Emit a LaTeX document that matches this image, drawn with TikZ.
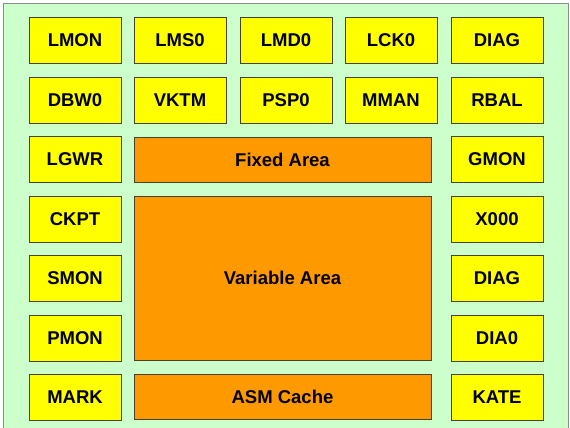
\documentclass[tikz,border=0pt]{standalone}
\usepackage{fontspec}
\setmainfont{Liberation Sans}
\usetikzlibrary{positioning}

\definecolor{areagreen}{HTML}{CCFFCC}
\definecolor{procyellow}{HTML}{FFFF00}
\definecolor{sgaorange}{HTML}{FF9900}
\definecolor{boxline}{HTML}{45452F}

\begin{document}
\begin{tikzpicture}[
    x=1pt,
    y=-1pt,
    procbox/.style={
        draw=boxline,
        fill=procyellow,
        line width=0.8pt,
        rectangle,
        minimum width=92pt,
        minimum height=46pt,
        inner sep=0pt,
        font=\fontsize{18.5}{20}\selectfont\bfseries
    },
    sgabox/.style={
        draw=boxline,
        fill=sgaorange,
        line width=0.8pt,
        rectangle,
        minimum width=297pt,
        inner sep=0pt,
        font=\fontsize{18.5}{20}\selectfont\bfseries
    }
]
\useasboundingbox (0,0) rectangle (570,428);

% ============================================================
% Instance background
% ============================================================
\draw[fill=areagreen, draw=black!45, line width=1pt]
    (3.5,4) rectangle (568,434);

% ============================================================
% Row 1
% ============================================================
\node[procbox] (lmon) at (75,40.5)  {LMON};
\node[procbox] (lms0) at (180,40.5) {LMS0};
\node[procbox] (lmd0) at (286,40.5) {LMD0};
\node[procbox] (lck0) at (391,40.5) {LCK0};
\node[procbox] (diag) at (497,40.5) {DIAG};

% ============================================================
% Row 2
% ============================================================
\node[procbox] (dbw0) at (75,100)  {DBW0};
\node[procbox] (vktm) at (180,100) {VKTM};
\node[procbox] (psp0) at (286,100) {PSP0};
\node[procbox] (mman) at (391,100) {MMAN};
\node[procbox] (rbal) at (497,100) {RBAL};

% ============================================================
% Left column
% ============================================================
\node[procbox] (lgwr) at (75,159.5) {LGWR};
\node[procbox] (ckpt) at (75,219)   {CKPT};
\node[procbox] (smon) at (75,278.5) {SMON};
\node[procbox] (pmon) at (75,338)   {PMON};
\node[procbox] (mark) at (75,397)   {MARK};

% ============================================================
% Right column
% ============================================================
\node[procbox] (gmon)   at (497,159.5) {GMON};
\node[procbox] (x000)   at (497,219)   {X000};
\node[procbox] (diag-b) at (497,278.5) {DIAG};
\node[procbox] (dia0)   at (497,338)   {DIA0};
\node[procbox] (kate)   at (497,397)   {KATE};

% ============================================================
% SGA areas
% ============================================================
\node[sgabox, minimum height=45pt]  (fixed)    at (282.5,159.5) {Fixed Area};
\node[sgabox, minimum height=164pt] (variable) at (282.5,278)   {Variable Area};
\node[sgabox, minimum height=45pt]  (asm)      at (282.5,396.5) {ASM Cache};

\end{tikzpicture}
\end{document}
